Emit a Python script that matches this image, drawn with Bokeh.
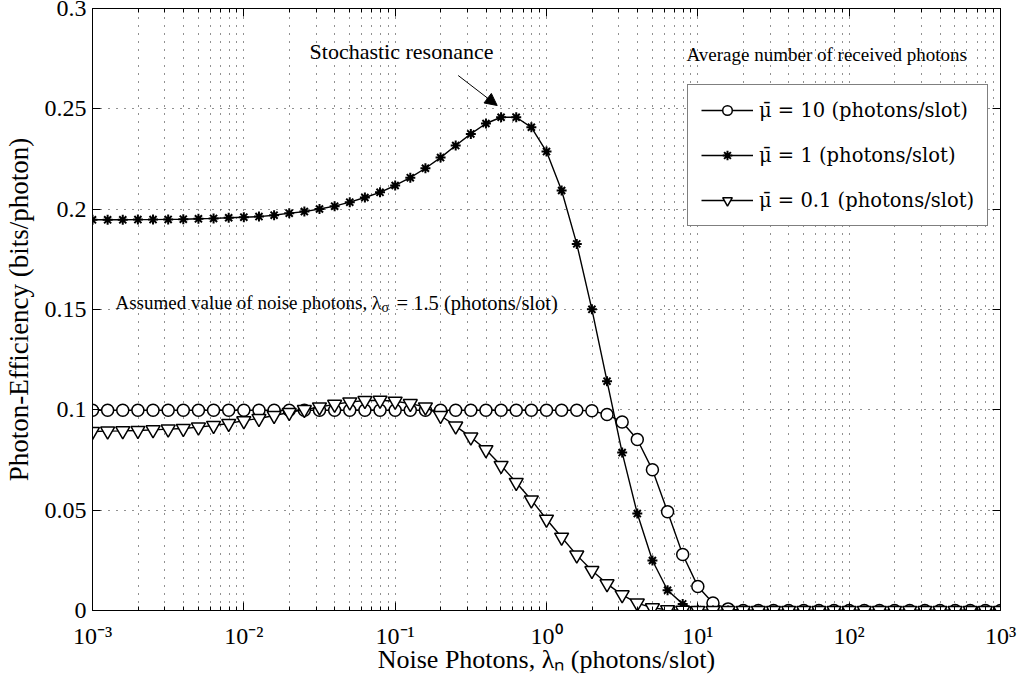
from bokeh.plotting import figure
from bokeh.models import (LogAxis, LinearAxis, FixedTicker, Legend, LegendItem,
                          Label, Arrow, NormalHead, CustomJSTickFormatter)
from bokeh.embed import file_html
from bokeh.resources import INLINE

FONT = "Liberation Serif"
LEG_FONT = "DejaVu Serif"

# ---- data -------------------------------------------------------------
# noise photons: 10 samples per decade from 1e-3 to 1e3
noise_exp = [e / 10 for e in range(-30, 31)]
noise = [10 ** e for e in noise_exp]

eff_mu10 = [0.0998] * 33 + [0.0995, 0.0977, 0.0939, 0.0852, 0.0701, 0.0492,
                            0.0279, 0.0120, 0.0037, 0.0008] + [0.0] * 18

eff_mu1 = [0.1947, 0.1947, 0.1947, 0.1948, 0.1948, 0.1949, 0.1950, 0.1952,
           0.1954, 0.1957, 0.1960, 0.1963, 0.1970, 0.1980, 0.1988, 0.2001,
           0.2015, 0.2035, 0.2058, 0.2084, 0.2118, 0.2157, 0.2204, 0.2257,
           0.2317, 0.2375, 0.2427, 0.2458, 0.2458, 0.2408, 0.2287, 0.2093,
           0.1827, 0.1501, 0.1143, 0.0787, 0.0483, 0.0249, 0.0101, 0.0033,
           0.0004] + [0.0] * 20

eff_mu01 = [0.0892, 0.0894, 0.0895, 0.0897, 0.0900, 0.0904, 0.0907, 0.0914,
            0.0922, 0.0932, 0.0946, 0.0957, 0.0972, 0.0987, 0.1001, 0.1014,
            0.1027, 0.1039, 0.1046, 0.1048, 0.1043, 0.1031, 0.1014, 0.0972,
            0.0919, 0.0864, 0.0801, 0.0723, 0.0638, 0.0551, 0.0455, 0.0365,
            0.0276, 0.0199, 0.0133, 0.0078, 0.0037, 0.0013, 0.0004,
            0.0001] + [0.0] * 21

series_labels = ["\u03bc\u0304 = 10 (photons/slot)",
                 "\u03bc\u0304 = 1 (photons/slot)",
                 "\u03bc\u0304 = 0.1 (photons/slot)"]
x_major = [1e-3, 1e-2, 1e-1, 1e0, 1e1, 1e2, 1e3]
x_minor = [m * 10 ** e for e in range(-3, 3) for m in range(2, 10)]
y_ticks = [0, 0.05, 0.1, 0.15, 0.2, 0.25, 0.3]

# ---- figure ------------------------------------------------------------
L, R, T, B = 92, 23, 8, 75
W, H = 1023, 685
FW, FH = W - L - R, H - T - B

p = figure(width=W, height=H, x_axis_type="log", x_range=(1e-3, 1e3),
           y_range=(0, 0.3), output_backend="svg", toolbar_location=None,
           min_border_left=L, min_border_right=R, min_border_top=T,
           min_border_bottom=B, background_fill_color="white",
           border_fill_color="white")
p.outline_line_color = "black"
p.outline_line_width = 1


def px2x(px):
    return 10 ** (-3 + (px - L) * 6.0 / FW)


def py2y(py):
    return (T + FH - py) * 0.3 / FH


xt = FixedTicker(ticks=x_major, minor_ticks=x_minor)
yt = FixedTicker(ticks=y_ticks)

xfmt = CustomJSTickFormatter(code="""
const sup = {'-':'\u207b','0':'\u2070','1':'\u00b9','2':'\u00b2','3':'\u00b3'};
const e = String(Math.round(Math.log10(tick)));
let s = '';
for (const c of e) s += sup[c];
return '10' + s;
""")
yfmt = CustomJSTickFormatter(code="return tick == 0 ? '0' : String(+tick.toFixed(2));")
blank = CustomJSTickFormatter(code="return '';")

xb = p.below[0]
yl = p.left[0]
xb.ticker = xt
xb.formatter = xfmt
xb.axis_label = "Noise Photons, λₙ (photons/slot)"
yl.ticker = yt
yl.formatter = yfmt
yl.axis_label = "Photon-Efficiency (bits/photon)"

top = LogAxis(ticker=xt, formatter=blank, major_label_standoff=0)
right = LinearAxis(ticker=yt, formatter=blank, major_label_standoff=0)
p.add_layout(top, "above")
p.add_layout(right, "right")

for ax in [xb, yl, top, right]:
    ax.axis_line_color = "black"
    ax.axis_line_width = 1
    ax.major_tick_in = 8
    ax.major_tick_out = 0
    ax.minor_tick_in = 4
    ax.minor_tick_out = 0
    ax.major_tick_line_color = "black"
    ax.minor_tick_line_color = "black"
    ax.major_label_text_font = FONT
    ax.major_label_text_color = "black"
    ax.axis_label_text_font = FONT
    ax.axis_label_text_font_style = "normal"
    ax.axis_label_text_color = "black"

yl.minor_tick_line_color = None
right.minor_tick_line_color = None

xb.major_label_text_font_size = "24px"
xb.major_label_standoff = 12
xb.axis_label_text_font_size = "26px"
xb.axis_label_standoff = -7
yl.major_label_text_font_size = "24px"
yl.major_label_standoff = 6
yl.axis_label_text_font_size = "27px"
yl.axis_label_standoff = 8

# grid: dotted
p.xgrid.ticker = xt
p.ygrid.ticker = yt
for attr in ["grid_line", "minor_grid_line"]:
    setattr(p.xgrid, attr + "_color", "#222222")
    setattr(p.xgrid, attr + "_dash", "1 7")
    setattr(p.xgrid, attr + "_width", 1)
p.ygrid.grid_line_color = "#222222"
p.ygrid.grid_line_dash = "1 7"
p.ygrid.grid_line_width = 1

# ---- series ------------------------------------------------------------
l1 = p.line(noise, eff_mu10, line_color="black", line_width=1.4)
m1 = p.scatter(noise, eff_mu10, marker="circle", size=12, fill_color="white",
               line_color="black", line_width=1.5)
l2 = p.line(noise, eff_mu1, line_color="black", line_width=1.4)
m2 = p.scatter(noise, eff_mu1, marker="asterisk", size=10, line_color="black",
               line_width=2)
l3 = p.line(noise, eff_mu01, line_color="black", line_width=1.4)
m3 = p.scatter(noise, eff_mu01, marker="inverted_triangle", size=14,
               fill_color="white", line_color="black", line_width=1.5)

legend = Legend(items=[LegendItem(label=series_labels[0], renderers=[l1, m1]),
                       LegendItem(label=series_labels[1], renderers=[l2, m2]),
                       LegendItem(label=series_labels[2], renderers=[l3, m3])],
                location=(687 - L, T + FH - 226), margin=0, padding=13,
                spacing=21, glyph_width=52, glyph_height=24, label_height=24,
                label_standoff=6, label_text_font=LEG_FONT,
                label_text_font_size="19.5px", label_text_color="black",
                border_line_color="black", border_line_width=1,
                background_fill_color="white", background_fill_alpha=1)
p.add_layout(legend)

# ---- annotations --------------------------------------------------------
p.add_layout(Label(x=px2x(401), y=py2y(51), text="Stochastic resonance",
                   text_align="center", text_baseline="middle",
                   text_font=FONT, text_font_size="22px", text_color="black"))
p.add_layout(Label(x=px2x(686), y=py2y(54),
                   text="Average number of received photons",
                   text_align="left", text_baseline="middle",
                   text_font=FONT, text_font_size="19px", text_color="black"))
p.add_layout(Label(x=px2x(115), y=py2y(302),
                   text="Assumed value of noise photons, λ",
                   text_align="left", text_baseline="middle",
                   text_font=FONT, text_font_size="19px", text_color="black"))
p.add_layout(Label(x=px2x(381), y=py2y(307), text="σ",
                   text_align="left", text_baseline="middle",
                   text_font=FONT, text_font_size="14px", text_color="black"))
p.add_layout(Label(x=px2x(396), y=py2y(302), text="= 1.5 (photons/slot)",
                   text_align="left", text_baseline="middle",
                   text_font=FONT, text_font_size="20.5px", text_color="black"))
p.add_layout(Arrow(x_start=px2x(457.7), y_start=py2y(75),
                   x_end=px2x(496.7), y_end=py2y(105),
                   line_color="black", line_width=1,
                   end=NormalHead(size=12, fill_color="black",
                                  line_color="black")))

open("out.html", "w").write(file_html(p, INLINE))
